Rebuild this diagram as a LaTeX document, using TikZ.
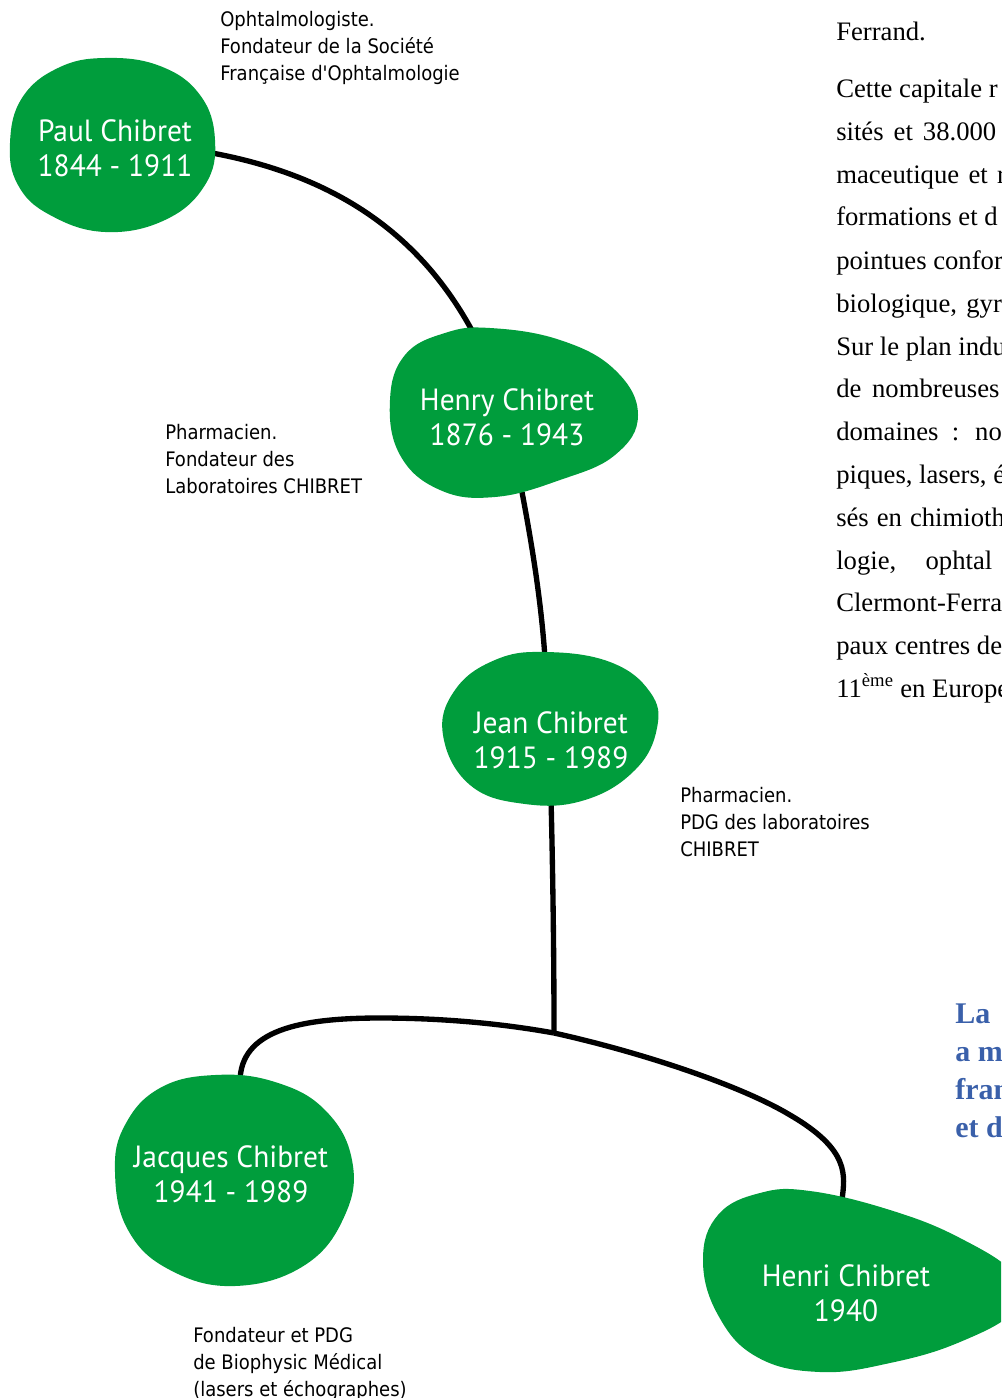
\documentclass[tikz,border=0pt]{standalone}
\usepackage{fontspec}
\newfontfamily\namefont[FakeStretch=0.96]{PT Sans}
\newfontfamily\lblfont[FakeStretch=0.9]{DejaVu Sans}
\newfontfamily\bodyfont{Liberation Serif}
\definecolor{chgreen}{RGB}{0,157,60}
\definecolor{chblue}{RGB}{58,96,170}
\begin{document}
\begin{tikzpicture}[x=0.75pt,y=-0.75pt,
  blob/.style={fill=chgreen,draw=none},
  link/.style={line width=4pt,draw=black},
  person/.style={text=white,font=\namefont\fontsize{23}{26.25}\selectfont,align=center,inner sep=0pt},
  note/.style={font=\lblfont\fontsize{15}{20.25}\selectfont,align=left,anchor=north west,inner sep=0pt},
  body/.style={font=\bodyfont\fontsize{20}{20}\selectfont,anchor=base west,inner sep=0pt},
  blue/.style={font=\bodyfont\bfseries\fontsize{22.5}{22.5}\selectfont,text=chblue,anchor=base west,inner sep=0pt}]
\useasboundingbox (0,0) rectangle (1001,1398);
\clip (0,0) rectangle (1001,1398);

% connector end points
\coordinate (paulE) at (212,153);
\coordinate (henryN) at (476,338);
\coordinate (henryS) at (522,492);
\coordinate (jeanN) at (545,658);
\coordinate (jeanS) at (551,798);
\coordinate (junc) at (554,1033);
\coordinate (jacquesN) at (240,1082);
\coordinate (henriN) at (842,1200);

% connectors
\draw[link] (paulE) .. controls (330,175) and (420,230) .. (henryN);
\draw[link] (henryS) .. controls (532,545) and (541,600) .. (jeanN);
\draw[link] (jeanS) .. controls (553,880) and (554,960) .. (junc);
\draw[link] (jacquesN) .. controls (240,1030) and (300,1018) .. (380,1018)
   .. controls (450,1018) and (510,1025) .. (junc);
\draw[link] (junc) .. controls (640,1052) and (740,1085) .. (790,1115)
   .. controls (850,1150) and (845,1175) .. (henriN);

% blobs
\fill[blob] plot[smooth cycle,tension=0.7] coordinates {(10,143) (22,98) (58,68) (105,58) (160,66) (200,95) (215,140) (205,185) (165,220) (105,232) (50,215) (18,185)};
\fill[blob] plot[smooth cycle,tension=0.7] coordinates {(390,400) (405,355) (445,333) (490,328) (560,340) (615,370) (638,415) (615,455) (560,480) (495,497) (440,490) (400,455)};
\fill[blob] plot[smooth cycle,tension=0.7] coordinates {(443,735) (455,690) (495,660) (545,652) (610,662) (650,692) (657,728) (635,770) (585,800) (525,804) (470,785)};
\fill[blob] plot[smooth cycle,tension=0.7] coordinates {(115,1172) (125,1125) (160,1088) (215,1075) (275,1082) (325,1110) (352,1160) (345,1215) (305,1265) (235,1286) (170,1270) (128,1230)};
\fill[blob] plot[smooth cycle,tension=0.7] coordinates {(703,1260) (718,1215) (760,1193) (810,1191) (890,1210) (960,1238) (1015,1275) (1015,1310) (960,1342) (890,1363) (820,1372) (757,1357) (718,1315)};

% names
\node[person] (paul) at (115,148) {Paul Chibret\\1844 - 1911};
\node[person] (henry) at (507,417) {Henry Chibret\\1876 - 1943};
\node[person] (jean) at (551,740) {Jean Chibret\\1915 - 1989};
\node[person] (jacques) at (231,1174) {Jacques Chibret\\1941 - 1989};
\node[person] (henri) at (846,1293) {Henri Chibret\\1940};

% notes
\node[note] (n1) at (220,11) {Ophtalmologiste.\\Fondateur de la Société\\Française d'Ophtalmologie};
\node[note] (n2) at (165,424) {Pharmacien.\\Fondateur des\\Laboratoires CHIBRET};
\node[note] (n3) at (680,787) {Pharmacien.\\PDG des laboratoires\\CHIBRET};
\node[note] (n4) at (193,1327) {Fondateur et PDG\\de Biophysic Médical\\(lasers et échographes)};

% body text (right column)
\node[body] (b0) at (836,41) {Ferrand.};
\node[body] (b1) at (836,98) {Cette capitale r};
\node[body] (b2) at (836,141) {sités\hspace{7.5pt}et\hspace{7.5pt}38.000};
\node[body] (b3) at (836,184) {maceutique\hspace{7pt}et\hspace{7pt}r};
\node[body] (b4) at (836,226) {formations et d};
\node[body] (b5) at (836,269) {pointues confor};
\node[body] (b6) at (836,312) {biologique,\hspace{7pt}gyr};
\node[body] (b7) at (836,355) {Sur le plan indu};
\node[body] (b8) at (836,397) {de\hspace{8pt}nombreuses};
\node[body] (b9) at (836,440) {domaines\hspace{10pt}:\hspace{12pt}no};
\node[body] (b10) at (836,483) {piques, lasers, é};
\node[body] (b11) at (836,526) {sés\hspace{6pt}en\hspace{6pt}chimioth};
\node[body] (b12) at (836,569) {logie,\hspace{22pt}ophtal};
\node[body] (b13) at (836,611) {Clermont-Ferra};
\node[body] (b14) at (836,654) {paux centres de};
\node[body] (b15) at (836,697) {11\textsuperscript{ème} en Europe};

% blue heading
\node[blue] (t1) at (955,1023) {La};
\node[blue] (t2) at (955,1061) {a m};
\node[blue] (t3) at (955,1099) {fran};
\node[blue] (t4) at (955,1137) {et d};
\end{tikzpicture}
\end{document}
